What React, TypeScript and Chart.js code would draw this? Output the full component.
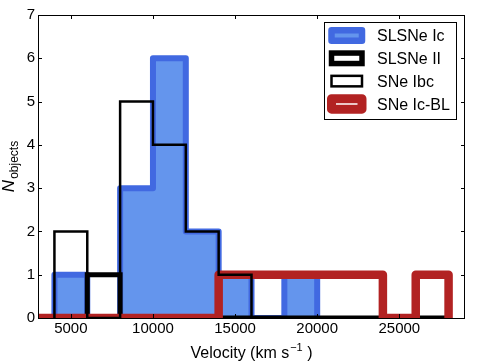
import React, { useEffect, useRef } from "react";
import { Chart, registerables } from "chart.js";

Chart.register(...registerables);

// Histogram data (bin edges in km/s, counts per bin)
const slslcEdges = [4000, 6000, 8000, 10000, 12000, 14000, 16000, 18000, 20000];
const slslcCounts = [1, 0, 3, 6, 2, 1, 0, 1];

const slsIIEdges = [6000, 8000, 10000, 12000, 14000, 16000, 18000, 20000, 22000, 24000, 26000, 28000];
const slsIICounts = [1, 0, 0, 0, 0, 0, 0, 0, 0, 0, 0];

const ibcEdges = [4000, 6000, 8000, 10000, 12000, 14000, 16000];
const ibcCounts = [2, 0, 5, 4, 2, 1];

const icblEdges = [2000, 4000, 6000, 8000, 10000, 12000, 14000, 16000, 18000, 20000, 22000, 24000, 26000, 28000];
const icblCounts = [0, 0, 0, 0, 0, 0, 1, 1, 1, 1, 1, 0, 1];

const seriesLabels = ["SLSNe Ic", "SLSNe II", "SNe Ibc", "SNe Ic-BL"];

const xTicks = [5000, 10000, 15000, 20000, 25000];
const yTicks = [0, 1, 2, 3, 4, 5, 6, 7];

const FONT = "'Liberation Sans', Arial, Helvetica, sans-serif";

function stepPoints(edges: number[], counts: number[]) {
  const pts: { x: number; y: number }[] = [{ x: edges[0], y: 0 }];
  counts.forEach((c, i) => {
    pts.push({ x: edges[i], y: c });
    pts.push({ x: edges[i + 1], y: c });
  });
  pts.push({ x: edges[edges.length - 1], y: 0 });
  return pts;
}

const decorPlugin = {
  id: "decor",
  afterDraw(chart: any) {
    const ctx = chart.ctx as CanvasRenderingContext2D;
    const { left, right, top, bottom } = chart.chartArea;
    const xs = chart.scales.x;
    const ys = chart.scales.y;
    ctx.save();
    // frame
    ctx.strokeStyle = "#000";
    ctx.lineWidth = 1;
    ctx.strokeRect(Math.round(left) + 0.5, Math.round(top) + 0.5, Math.round(right - left) - 1, Math.round(bottom - top));
    // inward ticks
    const tl = 4;
    ctx.beginPath();
    xTicks.forEach((v) => {
      const px = Math.round(xs.getPixelForValue(v)) + 0.5;
      ctx.moveTo(px, bottom);
      ctx.lineTo(px, bottom - tl);
      ctx.moveTo(px, top);
      ctx.lineTo(px, top + tl);
    });
    yTicks.forEach((v) => {
      const py = Math.round(ys.getPixelForValue(v)) + 0.5;
      ctx.moveTo(left, py);
      ctx.lineTo(left + tl, py);
      ctx.moveTo(right, py);
      ctx.lineTo(right - tl, py);
    });
    ctx.stroke();

    // x-axis title with superscript
    ctx.fillStyle = "#000";
    ctx.textBaseline = "alphabetic";
    ctx.textAlign = "left";
    const mainFont = `16px ${FONT}`;
    const supFont = `11px ${FONT}`;
    const p1 = "Velocity (km s";
    const p2 = "\u22121";
    const p3 = " )";
    ctx.font = mainFont;
    const w1 = ctx.measureText(p1).width;
    const w3 = ctx.measureText(p3).width;
    ctx.font = supFont;
    const w2 = ctx.measureText(p2).width;
    const total = w1 + w2 + w3 + 1;
    let x0 = (left + right) / 2 - total / 2;
    const base = 357.5;
    ctx.font = mainFont;
    ctx.fillText(p1, x0, base);
    x0 += w1 + 1;
    ctx.font = supFont;
    ctx.fillText(p2, x0, base - 7);
    x0 += w2;
    ctx.font = mainFont;
    ctx.fillText(p3, x0, base);

    // y-axis title: N_objects
    ctx.save();
    const cy = (top + bottom) / 2;
    ctx.translate(13.5, cy);
    ctx.rotate(-Math.PI / 2);
    const nFont = `italic 17px ${FONT}`;
    const subFont = `12px ${FONT}`;
    ctx.font = nFont;
    const wn = ctx.measureText("N").width;
    ctx.font = subFont;
    const ws = ctx.measureText("objects").width;
    const yt = wn + ws + 1;
    ctx.font = nFont;
    ctx.fillText("N", -yt / 2, 0);
    ctx.font = subFont;
    ctx.fillText("objects", -yt / 2 + wn + 1, 4.2);
    ctx.restore();

    // legend
    const bx = 324.5, by = 22.5, bw = 132, bh = 97;
    ctx.fillStyle = "#fff";
    ctx.fillRect(bx, by, bw, bh);
    ctx.strokeStyle = "#000";
    ctx.lineWidth = 1;
    ctx.strokeRect(bx, by, bw, bh);
    const styles = [
      { fill: "#6495ED", stroke: "#4169E1", lw: 6.5, join: "round" },
      { fill: "#ffffff", stroke: "#000000", lw: 5.5, join: "miter" },
      { fill: "#ffffff", stroke: "#000000", lw: 2.5, join: "miter" },
      { fill: "#ffffff", stroke: "#B22222", lw: 9, join: "round" },
    ];
    chart.data.datasets.forEach((ds: any, i: number) => {
      const st = styles[i];
      const cyRow = 35.5 + i * 22.8;
      const rx = 331.5, rw = 30.5, rh = 10.5;
      ctx.fillStyle = st.fill;
      ctx.fillRect(rx, cyRow - rh / 2, rw, rh);
      ctx.strokeStyle = st.stroke;
      ctx.lineWidth = st.lw;
      ctx.lineJoin = st.join as CanvasLineJoin;
      ctx.strokeRect(rx, cyRow - rh / 2, rw, rh);
      ctx.fillStyle = "#000";
      ctx.font = `16px ${FONT}`;
      ctx.textAlign = "left";
      ctx.textBaseline = "alphabetic";
      ctx.fillText(ds.label, 377, cyRow + 5.8);
    });
    ctx.restore();
  },
};

export default function App() {
  const ref = useRef<HTMLCanvasElement | null>(null);
  useEffect(() => {
    if (!ref.current) return;
    const common = { pointRadius: 0, pointHoverRadius: 0, tension: 0, clip: 0 };
    const chart = new Chart(ref.current, {
      type: "line",
      data: {
        datasets: [
          {
            ...common,
            label: seriesLabels[0],
            data: stepPoints(slslcEdges, slslcCounts),
            borderColor: "#4169E1",
            backgroundColor: "#6495ED",
            borderWidth: 6,
            borderJoinStyle: "round",
            borderCapStyle: "round",
            fill: "origin",
            order: 4,
          },
          {
            ...common,
            label: seriesLabels[1],
            data: stepPoints(slsIIEdges, slsIICounts),
            borderColor: "#000000",
            borderWidth: 5,
            borderJoinStyle: "miter",
            fill: false,
            order: 3,
          },
          {
            ...common,
            label: seriesLabels[2],
            data: stepPoints(ibcEdges, ibcCounts),
            borderColor: "#000000",
            borderWidth: 2.5,
            borderJoinStyle: "miter",
            fill: false,
            order: 1,
          },
          {
            ...common,
            label: seriesLabels[3],
            data: stepPoints(icblEdges, icblCounts),
            borderColor: "#B22222",
            borderWidth: 8.5,
            borderJoinStyle: "round",
            borderCapStyle: "round",
            fill: false,
            order: 2,
          },
        ] as any,
      },
      options: {
        animation: false,
        responsive: false,
        devicePixelRatio: 1,
        layout: { padding: { left: 0, top: 15, right: 14, bottom: 0 } },
        plugins: { legend: { display: false }, tooltip: { enabled: false } },
        scales: {
          x: {
            type: "linear",
            min: 3000,
            max: 29000,
            grid: { display: false, drawTicks: false },
            border: { display: false },
            afterBuildTicks: (scale: any) => {
              scale.ticks = xTicks.map((v) => ({ value: v }));
            },
            afterFit: (scale: any) => {
              scale.height = 44;
            },
            ticks: {
              autoSkip: false,
              maxRotation: 0,
              padding: 2,
              color: "#000",
              font: { family: FONT, size: 15 },
              callback: (v: any) => String(v),
            },
          },
          y: {
            type: "linear",
            min: 0,
            max: 7,
            grid: { display: false, drawTicks: false },
            border: { display: false },
            afterBuildTicks: (scale: any) => {
              scale.ticks = yTicks.map((v) => ({ value: v }));
            },
            afterFit: (scale: any) => {
              scale.width = 38;
            },
            ticks: {
              padding: 3,
              color: "#000",
              font: { family: FONT, size: 15 },
              callback: (v: any) => String(v),
            },
          },
        },
      },
      plugins: [decorPlugin],
    });
    return () => chart.destroy();
  }, []);
  return (
    <div style={{ position: "fixed", left: 0, top: 0, width: 479, height: 362, background: "#fff" }}>
      <canvas ref={ref} width={479} height={362} />
    </div>
  );
}
